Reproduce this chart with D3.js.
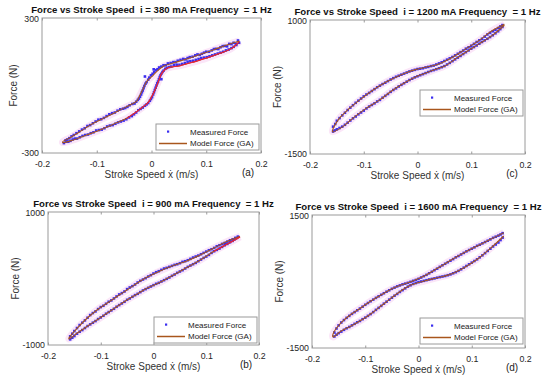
<!DOCTYPE html>
<html>
<head>
<meta charset="utf-8">
<script src="https://cdn.jsdelivr.net/npm/d3@7"></script>
<style>
  body { margin: 0; background: #fff; }
  svg { display: block; font-family: "Liberation Sans", Arial, sans-serif; }
  .ttl { white-space: pre; }
</style>
</head>
<body>
<svg id="chart" width="550" height="380"></svg>
<script>
// ---- data ----
var currents = ["380", "900", "1200", "1600"];
var letters = ["(a)", "(b)", "(c)", "(d)"];
var yDomains = [[-300, 300], [-1000, 1000], [-1500, 1000], [-1500, 1500]];
var xTicks = [-0.2, -0.1, 0, 0.1, 0.2];
var legendLabels = ["Measured Force", "Model Force (GA)"];

// model force, returning branch (right -> left) and rising branch (left -> right)
var aModelUp = [[0.1604,198],[0.1373,180],[0.1129,158],[0.0886,138],[0.0642,118],[0.0398,100],[0.0216,86],[0.0094,62],[0.0003,39],[-0.0088,17],[-0.015,-13],[-0.021,-42],[-0.027,-69],[-0.0393,-87],[-0.0575,-109],[-0.0819,-139],[-0.1063,-168],[-0.1306,-205],[-0.1489,-232],[-0.1622,-250]];
var aModelLow = [[-0.1622,-254],[-0.1428,-242],[-0.1184,-220],[-0.094,-198],[-0.0698,-172],[-0.0453,-146],[-0.027,-116],[-0.015,-94],[-0.0059,-75],[0.0003,-50],[0.0064,-20],[0.0124,17],[0.0186,54],[0.0277,76],[0.052,88],[0.0763,104],[0.1008,122],[0.1251,143],[0.1464,165],[0.1604,195]];
var bModelUp = [[0.164,634],[0.14,559],[0.1147,459],[0.0895,358],[0.0641,268],[0.0389,198],[0.0137,118],[-0.0117,22],[-0.0307,-68],[-0.0496,-169],[-0.0686,-268],[-0.0876,-369],[-0.1065,-469],[-0.1255,-594],[-0.1444,-745],[-0.1602,-895]];
var bModelLow = [[-0.1602,-910],[-0.1444,-820],[-0.1255,-719],[-0.1065,-620],[-0.0876,-519],[-0.0686,-418],[-0.0496,-319],[-0.0307,-233],[-0.0117,-143],[0.0137,-53],[0.0389,57],[0.0641,168],[0.0895,283],[0.1147,409],[0.14,519],[0.164,624]];
var cModelUp = [[0.1617,920],[0.138,796],[0.1136,611],[0.089,457],[0.0643,302],[0.0395,180],[0.0148,117],[-0.0037,74],[-0.0222,13],[-0.0407,-68],[-0.0593,-161],[-0.0839,-315],[-0.1087,-500],[-0.1272,-654],[-0.1457,-839],[-0.158,-1056]];
var cModelLow = [[-0.158,-1087],[-0.1395,-994],[-0.121,-839],[-0.0963,-654],[-0.0716,-500],[-0.0469,-315],[-0.0222,-161],[0.0025,-37],[0.0272,56],[0.0519,148],[0.0704,272],[0.089,395],[0.1136,550],[0.138,704],[0.1617,902]];
var dModelUp = [[0.1602,1101],[0.1352,951],[0.1103,801],[0.0854,650],[0.0604,478],[0.0355,297],[0.0106,124],[-0.0144,-5],[-0.0331,-79],[-0.0518,-176],[-0.0705,-305],[-0.0892,-440],[-0.1079,-591],[-0.1265,-740],[-0.1452,-930],[-0.1607,-1191]];
var dModelLow = [[-0.1607,-1252],[-0.1452,-1117],[-0.1265,-1004],[-0.1079,-876],[-0.0892,-726],[-0.0705,-553],[-0.0518,-380],[-0.0331,-214],[-0.0144,-79],[0.0106,11],[0.0355,86],[0.0604,162],[0.0854,311],[0.1103,501],[0.1352,749],[0.1602,1026]];

// measured force (blue dots), two passes over the loop
var aMeas = [[0.158,200],[0.150,190],[0.142,185],[0.134,176],[0.126,170],[0.118,163],[0.110,156],[0.100,150],[0.092,141],[0.084,138],[0.075,128],[0.066,122],[0.058,118],[0.048,110],[0.040,104],[0.030,98],[0.022,90],[0.014,80],[0.008,68],[0.002,52],[-0.004,35],[-0.009,15],[-0.013,-2],[-0.016,-22],[-0.019,-40],[-0.023,-58],[-0.028,-72],[-0.035,-82],[-0.044,-95],[-0.052,-103],[-0.062,-112],[-0.072,-123],[-0.082,-136],[-0.092,-150],[-0.102,-160],[-0.112,-176],[-0.122,-190],[-0.132,-204],[-0.142,-220],[-0.150,-234],[-0.157,-244],
  [-0.160,-256],[-0.152,-250],[-0.144,-240],[-0.136,-236],[-0.126,-224],[-0.116,-218],[-0.106,-208],[-0.096,-198],[-0.086,-190],[-0.076,-178],[-0.066,-170],[-0.056,-160],[-0.046,-150],[-0.036,-136],[-0.028,-120],[-0.020,-104],[-0.012,-90],[-0.006,-78],[-0.001,-60],[0.003,-40],[0.006,-20],[0.009,0],[0.012,18],[0.015,38],[0.018,52],[0.022,66],[0.028,78],[0.036,84],[0.046,92],[0.056,96],[0.066,106],[0.076,110],[0.086,118],[0.096,124],[0.106,130],[0.116,138],[0.126,146],[0.136,156],[0.146,166],[0.155,180]];
var aMeas2 = [[0.154,186],[0.146,184],[0.138,174],[0.130,175],[0.122,162],[0.114,162],[0.105,150],[0.096,146],[0.088,136],[0.080,134],[0.070,126],[0.062,116],[0.053,114],[0.044,104],[0.035,100],[0.026,90],[0.018,84],[0.011,72],[0.005,60],[-0.001,45],[-0.006,26],[-0.011,8],[-0.0145,-12],[-0.0175,-30],[-0.021,-50],[-0.025,-64],[-0.031,-80],[-0.040,-88],[-0.048,-100],[-0.057,-106],[-0.067,-120],[-0.077,-128],[-0.087,-144],[-0.097,-152],[-0.107,-168],[-0.117,-180],[-0.127,-196],[-0.137,-212],[-0.146,-226],[-0.154,-240],[-0.012,40],[0.004,72],[0.018,28],
  [-0.156,-250],[-0.148,-246],[-0.140,-236],[-0.131,-230],[-0.121,-220],[-0.111,-212],[-0.101,-200],[-0.091,-196],[-0.081,-182],[-0.071,-176],[-0.061,-164],[-0.051,-156],[-0.041,-142],[-0.032,-128],[-0.024,-110],[-0.016,-98],[-0.009,-84],[-0.003,-68],[0.001,-52],[0.0045,-30],[0.0075,-10],[0.0105,10],[0.0135,28],[0.0165,46],[0.020,60],[0.025,74],[0.032,82],[0.041,90],[0.051,92],[0.061,100],[0.071,108],[0.081,114],[0.091,122],[0.101,126],[0.111,134],[0.121,142],[0.131,150],[0.141,160],[0.150,172],[0.160,190]];
var bMeas = [[0.160,630],[0.150,590],[0.140,555],[0.130,520],[0.120,485],[0.110,440],[0.100,405],[0.090,365],[0.080,330],[0.070,295],[0.060,260],[0.050,230],[0.040,205],[0.030,175],[0.020,150],[0.010,110],[0.000,75],[-0.010,30],[-0.020,-15],[-0.030,-60],[-0.040,-115],[-0.050,-160],[-0.060,-220],[-0.070,-270],[-0.080,-330],[-0.090,-380],[-0.100,-430],[-0.110,-495],[-0.120,-550],[-0.130,-630],[-0.140,-700],[-0.150,-790],[-0.158,-870],
  [-0.158,-915],[-0.150,-865],[-0.140,-800],[-0.130,-745],[-0.120,-690],[-0.110,-640],[-0.100,-585],[-0.090,-530],[-0.080,-480],[-0.070,-425],[-0.060,-375],[-0.050,-320],[-0.040,-275],[-0.030,-230],[-0.020,-180],[-0.010,-140],[0.000,-100],[0.010,-65],[0.020,-25],[0.030,15],[0.040,60],[0.050,105],[0.060,150],[0.070,195],[0.080,235],[0.090,285],[0.100,330],[0.110,385],[0.120,430],[0.130,475],[0.140,520],[0.150,565],[0.158,610]];
var bMeas2 = [[0.155,610],[0.145,575],[0.135,535],[0.125,500],[0.115,460],[0.105,425],[0.095,385],[0.085,345],[0.075,315],[0.065,275],[0.055,250],[0.045,215],[0.035,190],[0.025,160],[0.015,130],[0.005,95],[-0.005,50],[-0.015,5],[-0.025,-35],[-0.035,-90],[-0.045,-135],[-0.055,-195],[-0.065,-240],[-0.075,-300],[-0.085,-350],[-0.095,-410],[-0.105,-460],[-0.115,-520],[-0.125,-590],[-0.135,-665],[-0.145,-745],[-0.154,-830],
  [-0.154,-890],[-0.145,-830],[-0.135,-775],[-0.125,-715],[-0.115,-665],[-0.105,-610],[-0.095,-560],[-0.085,-505],[-0.075,-455],[-0.065,-400],[-0.055,-350],[-0.045,-300],[-0.035,-250],[-0.025,-205],[-0.015,-160],[-0.005,-120],[0.005,-80],[0.015,-45],[0.025,-5],[0.035,40],[0.045,85],[0.055,125],[0.065,175],[0.075,215],[0.085,260],[0.095,310],[0.105,355],[0.115,410],[0.125,450],[0.135,500],[0.145,545],[0.154,590]];
var cMeas = [[0.158,905],[0.150,850],[0.140,790],[0.130,730],[0.120,650],[0.110,590],[0.100,520],[0.090,465],[0.080,400],[0.070,340],[0.060,285],[0.050,235],[0.040,190],[0.030,150],[0.020,125],[0.010,100],[0.000,85],[-0.010,55],[-0.020,20],[-0.030,-20],[-0.040,-60],[-0.050,-110],[-0.060,-170],[-0.070,-225],[-0.080,-290],[-0.090,-360],[-0.100,-425],[-0.110,-505],[-0.120,-590],[-0.130,-680],[-0.140,-780],[-0.150,-880],[-0.157,-990],
  [-0.157,-1080],[-0.150,-1040],[-0.140,-990],[-0.130,-915],[-0.120,-835],[-0.110,-760],[-0.100,-690],[-0.090,-615],[-0.080,-555],[-0.070,-490],[-0.060,-415],[-0.050,-340],[-0.040,-275],[-0.030,-210],[-0.020,-150],[-0.010,-95],[0.000,-50],[0.010,-10],[0.020,30],[0.030,65],[0.040,100],[0.050,140],[0.060,200],[0.070,265],[0.080,330],[0.090,400],[0.100,465],[0.110,525],[0.120,590],[0.130,650],[0.140,715],[0.150,790],[0.158,870]];
var cMeas2 = [[0.154,880],[0.145,815],[0.135,760],[0.125,690],[0.115,620],[0.105,555],[0.095,490],[0.085,430],[0.075,370],[0.065,310],[0.055,260],[0.045,210],[0.035,170],[0.025,140],[0.015,115],[0.005,92],[-0.005,70],[-0.015,40],[-0.025,0],[-0.035,-40],[-0.045,-85],[-0.055,-140],[-0.065,-195],[-0.075,-255],[-0.085,-325],[-0.095,-390],[-0.105,-465],[-0.115,-545],[-0.125,-635],[-0.135,-730],[-0.145,-830],[-0.153,-940],
  [-0.154,-1060],[-0.145,-1015],[-0.135,-955],[-0.125,-875],[-0.115,-800],[-0.105,-725],[-0.095,-650],[-0.085,-585],[-0.075,-520],[-0.065,-450],[-0.055,-380],[-0.045,-305],[-0.035,-240],[-0.025,-180],[-0.015,-120],[-0.005,-70],[0.005,-30],[0.015,10],[0.025,50],[0.035,82],[0.045,120],[0.055,170],[0.065,232],[0.075,298],[0.085,365],[0.095,432],[0.105,495],[0.115,558],[0.125,620],[0.135,682],[0.145,752],[0.154,830]];
var dMeas = [[0.158,1090],[0.150,1035],[0.140,985],[0.130,920],[0.120,860],[0.110,805],[0.100,740],[0.090,680],[0.080,610],[0.070,545],[0.060,470],[0.050,400],[0.040,330],[0.030,255],[0.020,185],[0.010,120],[0.000,60],[-0.010,15],[-0.020,-30],[-0.030,-65],[-0.040,-110],[-0.050,-165],[-0.060,-230],[-0.070,-300],[-0.080,-370],[-0.090,-445],[-0.100,-525],[-0.110,-610],[-0.120,-690],[-0.130,-775],[-0.140,-870],[-0.150,-990],[-0.158,-1150],
  [-0.158,-1240],[-0.150,-1165],[-0.140,-1090],[-0.130,-1025],[-0.120,-955],[-0.110,-890],[-0.100,-815],[-0.090,-735],[-0.080,-640],[-0.070,-550],[-0.060,-455],[-0.050,-365],[-0.040,-280],[-0.030,-195],[-0.020,-115],[-0.010,-55],[0.000,-15],[0.010,15],[0.020,45],[0.030,70],[0.040,100],[0.050,125],[0.060,160],[0.070,210],[0.080,275],[0.090,350],[0.100,425],[0.110,500],[0.120,590],[0.130,690],[0.140,790],[0.150,880],[0.158,990]];
var dMeas2 = [[0.154,1060],[0.145,1010],[0.135,950],[0.125,890],[0.115,830],[0.105,770],[0.095,710],[0.085,645],[0.075,575],[0.065,505],[0.055,435],[0.045,365],[0.035,290],[0.025,220],[0.015,150],[0.005,90],[-0.005,35],[-0.015,-8],[-0.025,-48],[-0.035,-88],[-0.045,-138],[-0.055,-198],[-0.065,-265],[-0.075,-335],[-0.085,-408],[-0.095,-485],[-0.105,-568],[-0.115,-650],[-0.125,-730],[-0.135,-820],[-0.145,-925],[-0.154,-1060],
  [-0.154,-1200],[-0.145,-1130],[-0.135,-1055],[-0.125,-990],[-0.115,-920],[-0.105,-850],[-0.095,-775],[-0.085,-690],[-0.075,-595],[-0.065,-500],[-0.055,-410],[-0.045,-320],[-0.035,-235],[-0.025,-155],[-0.015,-85],[-0.005,-35],[0.005,0],[0.015,30],[0.025,58],[0.035,85],[0.045,112],[0.055,142],[0.065,185],[0.075,240],[0.085,312],[0.095,388],[0.105,462],[0.115,545],[0.125,640],[0.135,740],[0.145,835],[0.154,935]];

// part of the rising branch that shows red in the picture (x from)
var redFrom = [-0.06, 0.1, null, null];

var modelUps = [aModelUp, bModelUp, cModelUp, dModelUp];
var modelLows = [aModelLow, bModelLow, cModelLow, dModelLow];
var measured = [aMeas.concat(aMeas2), bMeas.concat(bMeas2), cMeas.concat(cMeas2), dMeas.concat(dMeas2)];

// ---- layout ----
var boxes = [
  {l: 42, t: 18, r: 261, b: 153, legY: 124},
  {l: 48, t: 212, r: 259, b: 345, legY: 317},
  {l: 310, t: 20, r: 525, b: 154, legY: 90},
  {l: 312, t: 215, r: 525, b: 348, legY: 318}
];

var svg = d3.select("#chart");
var brown = "#a8561c", blue = "#3a2df0", gray = "#9a9a9a";

var drawPanel = function(i) {
  var bx = boxes[i];
  var xScale = d3.scaleLinear().domain([-0.2, 0.2]).range([bx.l, bx.r]);
  var yScale = d3.scaleLinear().domain(yDomains[i]).range([bx.b, bx.t]);
  var g = svg.append("g");

  // ticks (inward, MATLAB style)
  var xb = g.append("g").attr("transform", "translate(0," + bx.b + ")")
    .call(d3.axisBottom(xScale).tickValues(xTicks).tickSizeInner(-2.5).tickSizeOuter(0)
      .tickPadding(7.5).tickFormat(function(d) { return String(d); }));
  var xt = g.append("g").attr("transform", "translate(0," + bx.t + ")")
    .call(d3.axisTop(xScale).tickValues(xTicks).tickSizeInner(-2.5).tickSizeOuter(0).tickFormat(""));
  var yl = g.append("g").attr("transform", "translate(" + bx.l + ",0)")
    .call(d3.axisLeft(yScale).tickValues(yDomains[i]).tickSize(0).tickPadding(3)
      .tickFormat(function(d) { return String(d); }));
  [xb, xt, yl].forEach(function(a) {
    a.select(".domain").remove();
    a.selectAll("line").attr("stroke", gray);
    a.selectAll("text").attr("fill", "#262626").style("font-size", "8.8px")
      .style("font-family", "'Liberation Sans', Arial, sans-serif");
  });
  // top label sits a hair lower, under the title
  yl.selectAll("text").filter(function(d) { return d === yDomains[i][1]; }).attr("y", 1);

  // pink halo, measured dots, model loop on top
  var line = d3.line().x(function(d) { return xScale(d[0]); }).y(function(d) { return yScale(d[1]); })
    .curve(d3.curveCatmullRom);
  var loop = modelUps[i].concat(modelLows[i]);
  g.append("path").attr("d", line(loop)).attr("fill", "none")
    .attr("stroke", "#fbe6f8").attr("stroke-width", 7).attr("stroke-linejoin", "round");
  g.selectAll("rect.pt").data(measured[i]).enter().append("rect").attr("class", "pt")
    .attr("x", function(d) { return xScale(d[0]) - 1.3; })
    .attr("y", function(d) { return yScale(d[1]) - 1.3; })
    .attr("width", 2.6).attr("height", 2.6).attr("fill", blue);
  g.append("path").attr("d", line(loop)).attr("fill", "none")
    .attr("stroke", brown).attr("stroke-width", 1.1);
  if (redFrom[i] !== null) {
    var part = modelLows[i].filter(function(d) { return d[0] >= redFrom[i]; });
    g.append("path").attr("d", line(part)).attr("fill", "none")
      .attr("stroke", "#ee1b3c").attr("stroke-width", 1.1);
  }

  // box
  g.append("rect").attr("x", bx.l).attr("y", bx.t).attr("width", bx.r - bx.l).attr("height", bx.b - bx.t)
    .attr("fill", "none").attr("stroke", gray).attr("stroke-width", 1);

  // title
  g.append("text").attr("class", "ttl").attr("x", (bx.l + bx.r) / 2).attr("y", bx.t - 5.5)
    .attr("text-anchor", "middle").style("font-size", "9.6px").style("font-weight", "bold").attr("fill", "#111")
    .text("Force vs Stroke Speed  i = " + currents[i] + " mA Frequency  = 1 Hz");

  // axis labels
  g.append("text").attr("x", (bx.l + bx.r) / 2).attr("y", bx.b + 24.5).attr("text-anchor", "middle")
    .style("font-size", "10px").attr("fill", "#333").text("Stroke Speed \u1E8B (m/s)");
  var tw = d3.max(yl.selectAll("text").nodes(), function(n) { return n.getComputedTextLength(); });
  var lx = bx.l - tw - 7;
  g.append("text").attr("transform", "translate(" + lx + "," + (bx.t + bx.b) / 2 + ") rotate(-90)")
    .attr("text-anchor", "middle").style("font-size", "10px").attr("fill", "#333").text("Force (N)");
  g.append("text").attr("x", bx.r - 13).attr("y", bx.b + 22.5).attr("text-anchor", "middle")
    .style("font-size", "10px").attr("fill", "#222").text(letters[i]);

  // legend
  var lg = g.append("g").attr("transform", "translate(" + (bx.r - 105) + "," + bx.legY + ")");
  lg.append("rect").attr("width", 103).attr("height", 26).attr("fill", "#fff").attr("stroke", gray);
  lg.append("rect").attr("x", 11).attr("y", 6.5).attr("width", 2.2).attr("height", 2.2).attr("fill", blue);
  lg.append("line").attr("x1", 3).attr("x2", 31).attr("y1", 19.5).attr("y2", 19.5)
    .attr("stroke", brown).attr("stroke-width", 1.5);
  lg.selectAll("text.lt").data(legendLabels).enter().append("text").attr("class", "lt")
    .attr("x", 34).attr("y", function(d, k) { return 10.5 + k * 11.5; })
    .style("font-size", "8px").attr("fill", "#222").text(function(d) { return d; });
};

[0, 1, 2, 3].forEach(drawPanel);
</script>
</body>
</html>
